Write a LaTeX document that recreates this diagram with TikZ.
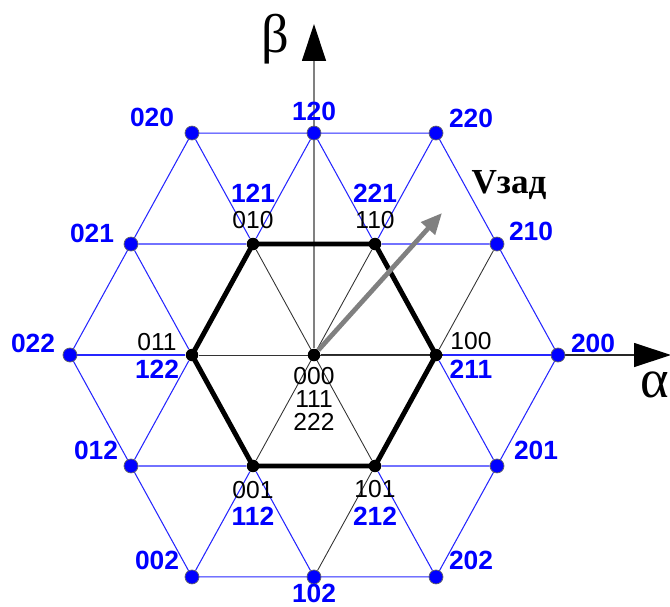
\documentclass[tikz,border=0pt]{standalone}
\usepackage{fontspec}
\setmainfont{Liberation Serif}
\setsansfont{Liberation Sans}
\usepackage{tikz}
\usetikzlibrary{arrows.meta, positioning, backgrounds}
\definecolor{vecblue}{RGB}{0,0,255}
\definecolor{vecgray}{RGB}{128,128,128}
\tikzset{
    % Lattice lines
    latline/.style={draw=vecblue!85, line width=0.6pt},
    spoke/.style={draw=black!80, line width=0.5pt},
    hexedge/.style={draw=black, line width=2.8pt, line join=round},
    % Vector dots
    bdot/.style={circle, fill=vecblue, draw=black!60, line width=0.4pt,
                inner sep=0pt, minimum size=0.28cm},
    kdot/.style={circle, fill=black, inner sep=0pt, minimum size=0.25cm},
    % Labels
    blbl/.style={font=\sffamily\bfseries\fontsize{15}{15}\selectfont, text=vecblue, inner sep=0pt},
    klbl/.style={font=\sffamily\fontsize{14}{13.2}\selectfont, text=black, inner sep=0pt,
                align=center},
    greek/.style={font=\fontsize{31}{31}\selectfont, inner sep=0pt},
    vlbl/.style={font=\bfseries\fontsize{20}{20}\selectfont, inner sep=0pt},
    % Arrows
    axisarrow/.style={-{Triangle[length=0.74cm, width=0.48cm, black]}, line width=0.7pt},
    refarrow/.style={-{Triangle[length=0.42cm, width=0.36cm]}, line width=2.7pt, vecgray},
}

\begin{document}
\begin{tikzpicture}[x=2.44cm, y=2.563cm]
\useasboundingbox (-6.28cm,-5.02cm) rectangle (7.12cm,7.10cm);

% Zero vector
\node[kdot] (v000) at (0,0) {};

% Small vectors (inner hexagon)
\node[kdot] (v100) at (0:1) {};
\node[kdot] (v110) at (60:1) {};
\node[kdot] (v010) at (120:1) {};
\node[kdot] (v011) at (180:1) {};
\node[kdot] (v001) at (240:1) {};
\node[kdot] (v101) at (300:1) {};

% Large vectors
\node[bdot] (v200) at (0:2) {};
\node[bdot] (v220) at (60:2) {};
\node[bdot] (v020) at (120:2) {};
\node[bdot] (v022) at (180:2) {};
\node[bdot] (v002) at (240:2) {};
\node[bdot] (v202) at (300:2) {};

% Medium vectors
\node[bdot] (v210) at (30:1.732) {};
\node[bdot] (v120) at (90:1.732) {};
\node[bdot] (v021) at (150:1.732) {};
\node[bdot] (v012) at (210:1.732) {};
\node[bdot] (v102) at (270:1.732) {};
\node[bdot] (v201) at (330:1.732) {};

% Axis ends and reference vector end
\coordinate (alphatip) at (7.14cm,0cm);
\coordinate (betatip) at (0cm,6.62cm);
\coordinate (vtip) at (2.56cm,2.84cm);

\begin{pgfonlayer}{background}
% Axes
\draw[axisarrow, black!85] (v000) -- (alphatip);
\draw[axisarrow, black!50] (v000) -- (betatip);

% Spokes and the black lattice line
\draw[spoke] (v011) -- (v100);
\draw[spoke] (v001) -- (v110);
\draw[spoke] (v101) -- (v010);
\draw[spoke] (v102) -- (v101) -- (v100) -- (v210);

% Blue lattice: outer hexagon
\draw[latline] (v200.center) -- (v210.center) -- (v220.center) -- (v120.center)
    -- (v020.center) -- (v021.center) -- (v022.center) -- (v012.center)
    -- (v002.center) -- (v102.center) -- (v202.center) -- (v201.center) -- cycle;

% Blue lattice: horizontal
\draw[latline] (v021) -- (v010);
\draw[latline] (v110) -- (v210);
\draw[latline] (v022) -- (v011);
\draw[latline] (v100) -- (v200);
\draw[latline] (v012) -- (v001);
\draw[latline] (v101) -- (v201);

% Blue lattice: rising
\draw[latline] (v012) -- (v011);
\draw[latline] (v010) -- (v120);
\draw[latline] (v002) -- (v001);
\draw[latline] (v110) -- (v220);

% Blue lattice: falling
\draw[latline] (v102) -- (v001);
\draw[latline] (v011) -- (v021);
\draw[latline] (v202) -- (v101);
\draw[latline] (v010) -- (v020);
\draw[latline] (v201) -- (v100);
\draw[latline] (v110) -- (v120);

% Inner hexagon
\draw[hexedge] (v100.center) -- (v110.center) -- (v010.center) -- (v011.center)
    -- (v001.center) -- (v101.center) -- cycle;
\end{pgfonlayer}

% Reference vector
\draw[refarrow] (v000) -- (vtip);
\node[vlbl] (vref) at ([shift={(1.34cm,0.56cm)}]vtip) {Vзад};

% Axis labels
\node[greek] (alpha) at ([shift={(6.82cm,-0.60cm)}]v000) {α};
\node[greek] (beta) at ([shift={(-0.77cm,6.32cm)}]v000) {β};

% Labels of the large and medium vectors
\node[blbl] (n200) at ([shift={(0.70cm,0.24cm)}]v200) {200};
\node[blbl] (n210) at ([shift={(0.68cm,0.26cm)}]v210) {210};
\node[blbl] (n220) at ([shift={(0.70cm,0.30cm)}]v220) {220};
\node[blbl] (n120) at ([shift={(0cm,0.44cm)}]v120) {120};
\node[blbl] (n020) at ([shift={(-0.80cm,0.32cm)}]v020) {020};
\node[blbl] (n021) at ([shift={(-0.78cm,0.22cm)}]v021) {021};
\node[blbl] (n022) at ([shift={(-0.74cm,0.24cm)}]v022) {022};
\node[blbl] (n012) at ([shift={(-0.70cm,0.32cm)}]v012) {012};
\node[blbl] (n002) at ([shift={(-0.70cm,0.34cm)}]v002) {002};
\node[blbl] (n102) at ([shift={(0cm,-0.33cm)}]v102) {102};
\node[blbl] (n202) at ([shift={(0.70cm,0.34cm)}]v202) {202};
\node[blbl] (n201) at ([shift={(0.78cm,0.32cm)}]v201) {201};

% Labels of the small vectors
\node[klbl] (n100) at ([shift={(0.70cm,0.27cm)}]v100) {100};
\node[blbl] (n211) at ([shift={(0.70cm,-0.29cm)}]v100) {211};
\node[klbl] (n110) at ([shift={(0cm,0.48cm)}]v110) {110};
\node[blbl] (n221) at ([shift={(0cm,1.02cm)}]v110) {221};
\node[klbl] (n010) at ([shift={(0cm,0.48cm)}]v010) {010};
\node[blbl] (n121) at ([shift={(0cm,1.02cm)}]v010) {121};
\node[klbl] (n011) at ([shift={(-0.70cm,0.26cm)}]v011) {011};
\node[blbl] (n122) at ([shift={(-0.70cm,-0.29cm)}]v011) {122};
\node[klbl] (n001) at ([shift={(0cm,-0.48cm)}]v001) {001};
\node[blbl] (n112) at ([shift={(0cm,-1.0cm)}]v001) {112};
\node[klbl] (n101) at ([shift={(0cm,-0.46cm)}]v101) {101};
\node[blbl] (n212) at ([shift={(0cm,-1.0cm)}]v101) {212};

% Zero vector label
\node[klbl] (n000) at ([shift={(0cm,-0.88cm)}]v000) {000\\111\\222};

\end{tikzpicture}
\end{document}
